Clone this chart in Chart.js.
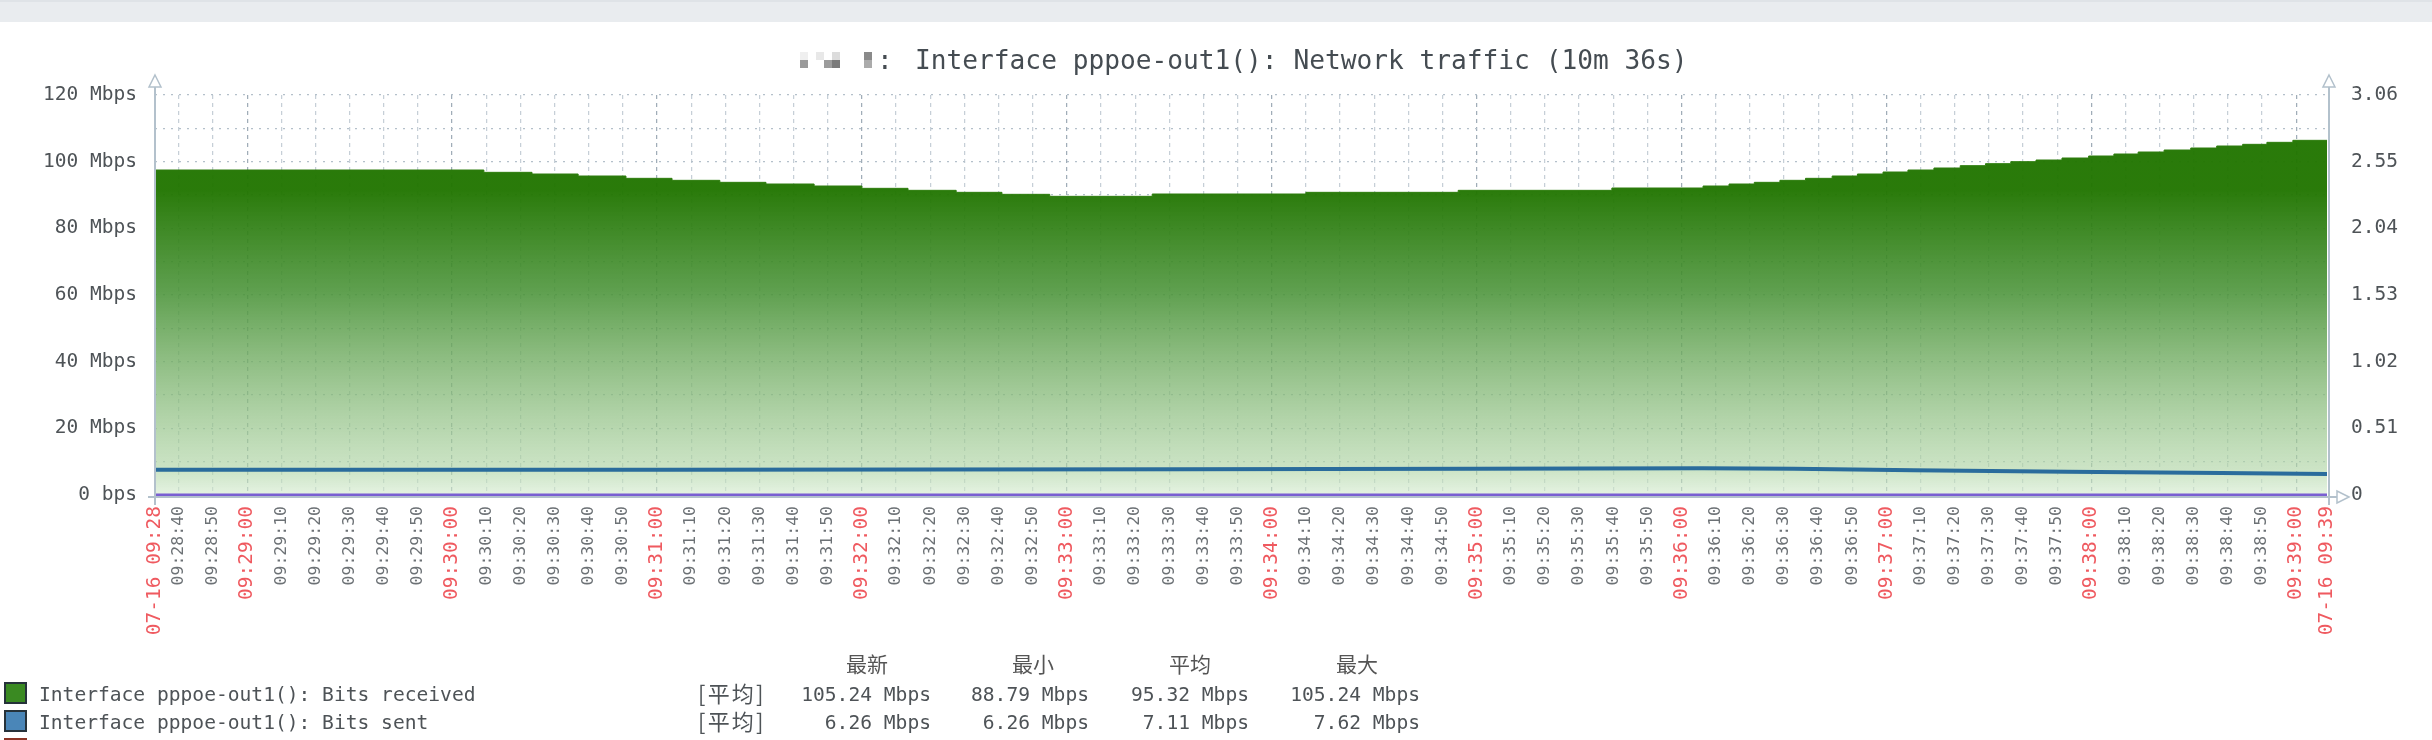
<!DOCTYPE html>
<html>
<head>
<meta charset="utf-8">
<title>Interface pppoe-out1(): Network traffic</title>
<script src="https://cdn.jsdelivr.net/npm/chart.js@4/dist/chart.umd.min.js"></script>
<style>
  html, body { margin: 0; padding: 0; background: #fff; overflow: hidden; }
  body { position: relative; width: 2432px; height: 740px; }
  #topbar { position: absolute; left: 0; top: 0; width: 2432px; height: 22px; background: #e9ecef; border-top: 2px solid #dfe3e7; box-sizing: border-box; }
  canvas { position: absolute; left: 0; top: 0; filter: blur(0.5px); }
  #overlay { filter: blur(0.5px); }
  .txt { position: absolute; white-space: pre; font-family: "DejaVu Sans Mono", monospace; color: #4e5357; line-height: 1; }
  .cjk { font-family: "Noto Sans CJK SC", sans-serif; }
  .swatch { position: absolute; box-sizing: border-box; border: 2px solid #26323a; }
  .cell { position: absolute; }
</style>
</head>
<body>
<div id="topbar"></div>
<canvas id="chart" width="2432" height="740"></canvas>
<div id="overlay"></div>
<script>
const titleSeparator = ':';
const titleText = 'Interface pppoe-out1(): Network traffic (10m 36s)';

// seconds since the left edge of the graph (09:28:33)
const graphEnd = 636;
const receivedTimes = [0, 96.3, 110.4, 123.9, 137.9, 151.4, 165.4, 178.9, 193, 207, 220.5, 234.6, 248, 262, 292, 337, 381.6, 426.6,
  453.3, 460.9, 468.3, 475.8, 483.3, 491.1, 498.5, 506, 513.3, 520.9, 528.6, 536, 543.4, 550.8, 558.4, 566.2, 573.6, 580.7, 588.3, 596.1, 603.7, 611.3, 618.4, 626, 636];
const receivedMbps = [97.5, 96.8, 96.3, 95.7, 95.0, 94.4, 93.8, 93.3, 92.7, 92.0, 91.4, 90.8, 90.2, 89.6, 90.3, 90.8, 91.4, 92.1,
  92.7, 93.3, 93.8, 94.4, 95.0, 95.7, 96.3, 96.9, 97.5, 98.1, 98.8, 99.4, 100, 100.5, 101.1, 101.7, 102.3, 102.9, 103.5, 104.1, 104.7, 105.2, 105.8, 106.4, 106.4];
const sentTimes = [0, 150, 300, 386, 453, 480, 515, 560, 605, 636];
const sentMbps = [7.59, 7.59, 7.7, 7.85, 8.0, 7.85, 7.4, 7.0, 6.6, 6.3];
const statusTimes = [0, 636];
const statusValues = [0, 0];

const leftTickValues = [0, 20, 40, 60, 80, 100, 120];
const leftTickLabels = ['0 bps', '20 Mbps', '40 Mbps', '60 Mbps', '80 Mbps', '100 Mbps', '120 Mbps'];
const rightTickLabels = ['0', '0.51', '1.02', '1.53', '2.04', '2.55', '3.06'];

const xTickLabels = ['07-16 09:28',
  '09:28:40', '09:28:50',
  '09:29:00', '09:29:10', '09:29:20', '09:29:30', '09:29:40', '09:29:50',
  '09:30:00', '09:30:10', '09:30:20', '09:30:30', '09:30:40', '09:30:50',
  '09:31:00', '09:31:10', '09:31:20', '09:31:30', '09:31:40', '09:31:50',
  '09:32:00', '09:32:10', '09:32:20', '09:32:30', '09:32:40', '09:32:50',
  '09:33:00', '09:33:10', '09:33:20', '09:33:30', '09:33:40', '09:33:50',
  '09:34:00', '09:34:10', '09:34:20', '09:34:30', '09:34:40', '09:34:50',
  '09:35:00', '09:35:10', '09:35:20', '09:35:30', '09:35:40', '09:35:50',
  '09:36:00', '09:36:10', '09:36:20', '09:36:30', '09:36:40', '09:36:50',
  '09:37:00', '09:37:10', '09:37:20', '09:37:30', '09:37:40', '09:37:50',
  '09:38:00', '09:38:10', '09:38:20', '09:38:30', '09:38:40', '09:38:50',
  '09:39:00', '07-16 09:39'];

const legendHeaders = ['最新', '最小', '平均', '最大'];
const legendNames = ['Interface pppoe-out1(): Bits received', 'Interface pppoe-out1(): Bits sent'];
const legendFunc = '[平均]';
const legendLast = ['105.24 Mbps', '6.26 Mbps'];
const legendMin = ['88.79 Mbps', '6.26 Mbps'];
const legendAvg = ['95.32 Mbps', '7.11 Mbps'];
const legendMax = ['105.24 Mbps', '7.62 Mbps'];

const MONO = '"DejaVu Sans Mono", monospace';

function tickOffset(label, i) {
  if (i === 0) return 0;
  if (i === xTickLabels.length - 1) return graphEnd;
  const p = label.split(':').map(Number);
  return (p[0] * 3600 + p[1] * 60 + p[2]) - (9 * 3600 + 28 * 60 + 33);
}
const xTickValues = xTickLabels.map(tickOffset);

function isRedTick(i) {
  const label = xTickLabels[i] || '';
  return label.length > 8 || label.endsWith(':00');
}

function toPoints(xs, ys) {
  return xs.map((x, i) => ({ x: x, y: ys[i] }));
}

function areaFill(context) {
  const chart = context.chart;
  if (!chart.chartArea) return 'rgba(33,117,0,0.9)';
  const g = chart.ctx.createLinearGradient(0, 190, 0, chart.chartArea.bottom);
  g.addColorStop(0, 'rgba(33,117,0,0.96)');
  g.addColorStop(0.33, 'rgba(72,146,54,0.88)');
  g.addColorStop(0.92, 'rgba(178,214,168,0.65)');
  g.addColorStop(1, 'rgba(212,235,207,0.6)');
  return g;
}

// axis lines with the hollow arrowheads zabbix draws
const axisArrows = {
  id: 'axisArrows',
  afterDraw(chart) {
    const a = chart.chartArea, c = chart.ctx;
    const rx = a.right + 2, by = a.bottom + 2;
    c.save();
    c.strokeStyle = '#b3c1cc';
    c.fillStyle = '#fff';
    c.lineWidth = 2;
    c.beginPath();
    c.moveTo(a.left, 86); c.lineTo(a.left, by + 8);
    c.moveTo(a.left - 7, by); c.lineTo(rx + 8, by);
    c.moveTo(rx, 86); c.lineTo(rx, by + 8);
    c.stroke();
    c.lineWidth = 1.5;
    [a.left, rx].forEach(x => {
      c.beginPath();
      c.moveTo(x, 75); c.lineTo(x + 6, 87); c.lineTo(x - 6, 87); c.closePath();
      c.fill(); c.stroke();
    });
    c.beginPath();
    c.moveTo(rx + 20, by); c.lineTo(rx + 8, by - 6); c.lineTo(rx + 8, by + 6); c.closePath();
    c.fill(); c.stroke();
    c.restore();
  }
};

new Chart(document.getElementById('chart'), {
  type: 'line',
  data: {
    datasets: [
      { label: 'Bits received', data: toPoints(receivedTimes, receivedMbps), stepped: true, yAxisID: 'y', fill: 'origin',
        borderColor: '#2e7d0e', borderWidth: 1, backgroundColor: areaFill, pointRadius: 0, order: 3 },
      { label: 'Bits sent', data: toPoints(sentTimes, sentMbps), yAxisID: 'y', fill: false,
        borderColor: '#2a6c9c', borderWidth: 4, pointRadius: 0, order: 2 },
      { label: 'Status', data: toPoints(statusTimes, statusValues), yAxisID: 'y1', fill: false,
        borderColor: '#7a5fd2', borderWidth: 3, pointRadius: 0, order: 1, clip: false }
    ]
  },
  options: {
    responsive: false,
    animation: false,
    devicePixelRatio: 1,
    layout: { padding: { top: 95, left: 0, right: 0, bottom: 0 } },
    plugins: { legend: { display: false }, title: { display: false }, tooltip: { enabled: false } },
    scales: {
      x: {
        type: 'linear',
        min: 0,
        max: graphEnd,
        afterBuildTicks: scale => { scale.ticks = xTickValues.map(v => ({ value: v })); },
        afterFit: scale => { scale.height = 245; },
        border: { display: false, dash: [4, 4] },
        grid: {
          drawTicks: false,
          lineWidth: 1.25,
          color: ctx => {
            const i = ctx.index;
            if (i === 0 || i === xTickLabels.length - 1) return 'rgba(0,0,0,0)';
            return isRedTick(i) ? '#a0adb8' : '#c6cfd7';
          }
        },
        ticks: {
          autoSkip: false,
          minRotation: 90,
          maxRotation: 90,
          padding: 11,
          callback: (value, index) => xTickLabels[index],
          color: ctx => isRedTick(ctx.index) ? '#ef5a60' : '#6c7175',
          font: ctx => ({ family: MONO, size: isRedTick(ctx.index) ? 19.5 : 16.5 })
        }
      },
      y: {
        position: 'left',
        min: 0,
        max: 120,
        afterFit: scale => { scale.width = 155; },
        border: { display: false, dash: [2, 6] },
        grid: { drawTicks: false, color: '#b4c0ca', lineWidth: 1.25 },
        ticks: {
          stepSize: 10,
          autoSkip: false,
          padding: 18,
          color: '#4e5357',
          font: { family: MONO, size: 19.5 },
          callback: value => {
            const i = leftTickValues.indexOf(value);
            return i < 0 ? '' : leftTickLabels[i];
          }
        }
      },
      y1: {
        position: 'right',
        min: 0,
        max: 3.06,
        afterFit: scale => { scale.width = 105; },
        border: { display: false },
        grid: { display: false, drawTicks: false },
        ticks: {
          stepSize: 0.51,
          autoSkip: false,
          padding: 24,
          color: '#4e5357',
          font: { family: MONO, size: 19.5 },
          callback: (value, index) => rightTickLabels[index]
        }
      }
    }
  },
  plugins: [axisArrows]
});

// title and legend table
const overlay = document.getElementById('overlay');

function addText(text, css, cls) {
  const d = document.createElement('div');
  d.className = 'txt' + (cls ? ' ' + cls : '');
  d.textContent = text;
  d.style.cssText = css;
  overlay.appendChild(d);
  return d;
}

// the masked host name in the title, kept as the grey blocks of the reference
[[800, 60, '#9a9a9a'], [800, 52, '#efefef'], [816, 52, '#e8e8e8'], [824, 60, '#9c9c9c'], [832, 60, '#7a7a7a'], [832, 52, '#dcdcdc'],
 [864, 52, '#8a8a8a'], [864, 60, '#ababab']].forEach(b => {
  const d = document.createElement('div');
  d.className = 'cell';
  d.style.cssText = 'left:' + b[0] + 'px;top:' + b[1] + 'px;width:8px;height:8px;background:' + b[2];
  overlay.appendChild(d);
});

addText(titleSeparator, 'left:877px;top:47px;font-size:26.2px;color:#454c52');
addText(titleText, 'left:915px;top:47px;font-size:26.2px;color:#454c52');

const headerRights = [888, 1054, 1211, 1378];
legendHeaders.forEach((h, i) => {
  addText(h, 'right:' + (2432 - headerRights[i]) + 'px;top:653px;font-size:21px;color:#555', 'cjk');
});

const rowTops = [682, 710];
const swatchTops = [682, 710];
const swatchColors = ['#3a8a22', '#4a86b8'];
const valueRights = [931, 1089, 1249, 1420];
legendNames.forEach((name, r) => {
  const s = document.createElement('div');
  s.className = 'swatch';
  s.style.cssText = 'left:4px;top:' + swatchTops[r] + 'px;width:23px;height:22px;background:' + swatchColors[r];
  overlay.appendChild(s);
  addText(name, 'left:39px;top:' + (rowTops[r] + 3) + 'px;font-size:19.6px');
  addText(legendFunc, 'left:698px;top:' + (rowTops[r] - 1) + 'px;font-size:22px;letter-spacing:2.2px', 'cjk');
  [legendLast, legendMin, legendAvg, legendMax].forEach((col, c) => {
    addText(col[r], 'right:' + (2432 - valueRights[c]) + 'px;top:' + (rowTops[r] + 3) + 'px;font-size:19.6px');
  });
});

// third legend row is cut off by the bottom of the picture
const cut = document.createElement('div');
cut.className = 'cell';
cut.style.cssText = 'left:4px;top:738px;width:23px;height:2px;background:#8a3324';
overlay.appendChild(cut);
</script>
</body>
</html>
